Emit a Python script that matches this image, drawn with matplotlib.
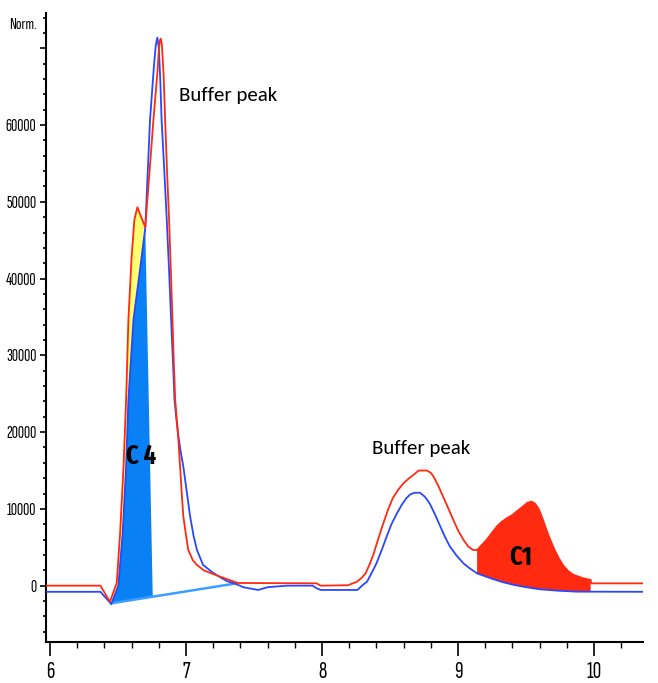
import numpy as np
import matplotlib
matplotlib.use("Agg")
import matplotlib.pyplot as plt
from matplotlib.ticker import MultipleLocator

# red trace (sample)
red_x = [5.97, 6.37, 6.44, 6.49, 6.515, 6.54, 6.559, 6.576, 6.60, 6.62, 6.642, 6.67, 6.70,
         6.715, 6.735, 6.76, 6.79, 6.80, 6.807, 6.814, 6.822, 6.835, 6.846, 6.86, 6.875, 6.89, 6.90,
         6.91, 6.92, 6.94, 6.956, 6.97, 6.98, 7.0, 7.016, 7.05, 7.08, 7.13, 7.18, 7.25, 7.38,
         7.96, 7.99, 8.19, 8.255, 8.29, 8.32, 8.35, 8.38, 8.415, 8.45, 8.485, 8.52, 8.56, 8.60,
         8.64, 8.67, 8.71, 8.77, 8.80, 8.82, 8.855, 8.89, 8.93, 8.965, 9.0, 9.04, 9.075, 9.11,
         9.14, 9.175, 9.21, 9.25, 9.285, 9.32, 9.36, 9.40, 9.43, 9.47, 9.51, 9.54, 9.565, 9.59,
         9.62, 9.65, 9.68, 9.71, 9.74, 9.77, 9.81, 9.85, 9.92, 9.975, 9.98, 10.36]
red_y = [0, 0, -2100, 350, 6870, 15500, 24200, 34650, 43000, 47700, 49300, 48000, 46700,
         50200, 54800, 60700, 67000, 69800, 71000, 71250, 70500, 66500, 60700, 54000, 47700, 40000, 34650,
         29000, 24200, 19900, 15500, 11500, 9000, 6500, 4650, 3300, 2700, 2000, 1650, 1170, 350,
         300, 0, 50, 500, 1000, 1600, 2800, 4200, 6200, 8100, 9900, 11400, 12500, 13350,
         14000, 14400, 15000, 15000, 14700, 14200, 13000, 11600, 10000, 8570, 7200, 5960, 5100, 4650,
         4650, 5300, 5960, 6900, 7700, 8300, 8800, 9200, 9650, 10200, 10800, 10950, 10700, 10100,
         8800, 7260, 5900, 4650, 3600, 2700, 1900, 1400, 960, 750, 300, 300]

# blue trace (reference)
blue_x = [5.97, 6.37, 6.45, 6.502, 6.534, 6.559, 6.576, 6.613, 6.66, 6.70, 6.735, 6.765, 6.778,
          6.789, 6.80, 6.81, 6.82, 6.84, 6.858, 6.875, 6.89, 6.905, 6.915, 6.93, 6.94, 6.96, 6.98,
          7.0, 7.03, 7.055, 7.08, 7.125, 7.20, 7.25, 7.30, 7.37, 7.42, 7.53, 7.60, 7.74, 7.93,
          7.96, 7.99, 8.26, 8.30, 8.33, 8.36, 8.40, 8.44, 8.475, 8.51, 8.55, 8.585, 8.62, 8.65,
          8.68, 8.72, 8.755, 8.79, 8.83, 8.87, 8.905, 8.94, 8.99, 9.04, 9.09, 9.14, 9.24, 9.32,
          9.41, 9.50, 9.60, 9.73, 9.87, 10.36]
blue_y = [-800, -800, -2400, 0, 6870, 15500, 24200, 34650, 41000, 46600, 60700, 68000, 70500,
          71400, 70000, 66000, 60700, 54000, 47700, 41000, 34650, 28500, 24200, 21500, 19900, 17500, 15500,
          12900, 9000, 6500, 4650, 2700, 1650, 1100, 600, 200, -200, -560, -200, 0, 0,
          -340, -560, -560, 100, 500, 1500, 2900, 4700, 6400, 8000, 9400, 10500, 11400, 11900,
          12100, 12100, 11600, 10750, 9300, 7700, 6300, 5100, 3900, 2900, 2200, 1600, 960, 500,
          100, -200, -470, -650, -780, -800]

# integration baseline under C4
base_x = [6.45, 7.37]
base_y = [-2300, 300]

c4_from, c4_top, c4_to = 6.45, 6.70, 6.755
c1_from, c1_to = 9.14, 9.975

labels = ["Buffer peak", "Buffer peak", "C 4", "C1"]
label_x = [6.949, 8.365, 6.67, 9.463]
label_y = [63100, 17170, 16850, 3740]

RED = "#ff2a10"
BLUE = "#2847ff"
C4_BLUE = "#0a80f5"
LIGHT = "#3d9dff"
YELLOW = "#ffff70"

narrow = ["Sofia Sans Extra Condensed", "DejaVu Sans"]
narrow_bold = ["Fira Sans Extra Condensed", "DejaVu Sans"]

fig = plt.figure(figsize=(6.58, 6.83), dpi=100)
ax = fig.add_axes([46 / 658, 41 / 683, 597 / 658, 629 / 683])

rx, ry = np.array(red_x), np.array(red_y)
bx, by = np.array(blue_x), np.array(blue_y)

# yellow: red above blue on the leading edge
m_r = (rx >= 6.44) & (rx <= c4_top)
m_b = (bx >= c4_from) & (bx <= c4_top)
ax.fill(np.r_[rx[m_r], bx[m_b][::-1]], np.r_[ry[m_r], by[m_b][::-1]], color=YELLOW, lw=0, zorder=1)

# C4 area
b_end = np.interp(c4_to, base_x, base_y)
ax.fill(np.r_[bx[m_b], c4_to, base_x[0]], np.r_[by[m_b], b_end, base_y[0]],
        color=C4_BLUE, lw=0, zorder=2)

# C1 area
m1r = (rx >= c1_from) & (rx <= c1_to)
m1b = (bx >= c1_from) & (bx <= c1_to)
ax.fill(np.r_[rx[m1r], c1_to, bx[m1b][::-1]],
        np.r_[ry[m1r], np.interp(c1_to, bx, by), by[m1b][::-1]],
        color=RED, lw=0, zorder=2)

ax.plot(base_x, base_y, color=LIGHT, lw=1.8, zorder=3)
ax.plot(blue_x, blue_y, color=BLUE, lw=1.3, zorder=4)
ax.plot(red_x, red_y, color=RED, lw=1.3, zorder=5)

for t, x, y in zip(labels, label_x, label_y):
    if t.startswith("C"):
        ax.text(x, y, t, ha="center", va="center", fontsize=19, fontweight="bold",
                family=narrow_bold, color="black", zorder=6)
    else:
        ax.text(x, y, t, ha="left", va="baseline", fontsize=15, family="Carlito", color="black", zorder=6)

ax.set_xlim(5.97, 10.36)
ax.set_ylim(-7340, 74600)

for s in ["top", "right"]:
    ax.spines[s].set_visible(False)
for s in ["left", "bottom"]:
    ax.spines[s].set_linewidth(1.5)

ax.xaxis.set_major_locator(MultipleLocator(1))
ax.xaxis.set_minor_locator(MultipleLocator(0.2))
ax.yaxis.set_major_locator(MultipleLocator(10000))
ax.yaxis.set_minor_locator(MultipleLocator(2000))
ax.tick_params(axis="x", which="major", length=10, width=1.2, pad=4, labelsize=17)
ax.tick_params(axis="x", which="minor", length=4, width=1.0)
ax.tick_params(axis="y", which="major", length=4, width=1.2, pad=3, labelsize=12.5)
ax.tick_params(axis="y", which="minor", length=2, width=1.2)

yt = [0, 10000, 20000, 30000, 40000, 50000, 60000]
ax.set_yticks(yt + [70000])
ax.set_yticklabels([str(v) for v in yt] + [""])
for lab in ax.get_xticklabels() + ax.get_yticklabels():
    lab.set_family(narrow)

fig.text(37 / 658, 1 - 25 / 683, "Norm.", ha="right", va="center", fontsize=12, family=narrow)

fig.savefig("out.png", dpi=100)
